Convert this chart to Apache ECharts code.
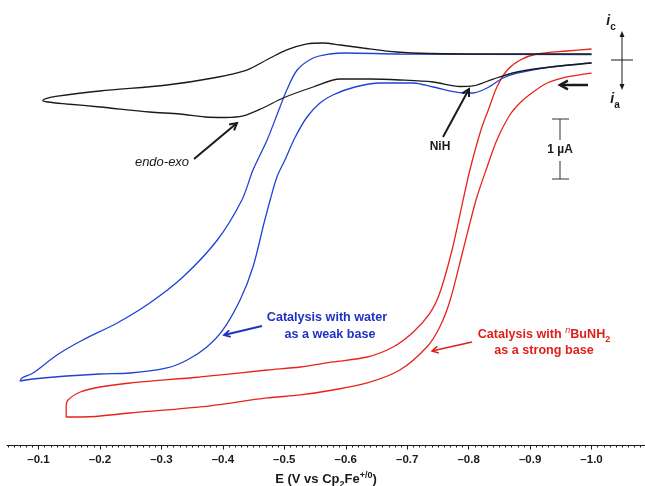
<!DOCTYPE html>
<html>
<head>
<meta charset="utf-8">
<script src="https://cdn.jsdelivr.net/npm/echarts@6/dist/echarts.min.js"></script>
<style>html,body{margin:0;padding:0;background:#fff}#c{width:645px;height:486px}</style>
</head>
<body>
<div id="c"></div>
<script>
// Potential (V vs Cp2Fe+/0) and current (µA, cathodic positive)
var blackE = [-1.000,-0.933,-0.879,-0.840,-0.807,-0.786,-0.742,-0.688,-0.640,-0.591,-0.547,-0.498,-0.465,-0.433,-0.404,-0.371,-0.330,-0.281,-0.200,-0.146,-0.115,-0.107,
              -0.112,-0.128,-0.200,-0.309,-0.384,-0.439,-0.477,-0.504,-0.537,-0.563,-0.591,-0.628,-0.683,-0.737,-0.851,-1.000];
var blackI = [-0.050,-0.117,-0.200,-0.317,-0.433,-0.442,-0.367,-0.333,-0.317,-0.317,-0.450,-0.633,-0.800,-0.933,-0.958,-0.950,-0.900,-0.867,-0.783,-0.733,-0.700,-0.675,
              -0.642,-0.608,-0.517,-0.417,-0.300,-0.167,0.033,0.167,0.267,0.283,0.250,0.200,0.133,0.108,0.100,0.100];

var blueE = [-1.000,-0.933,-0.879,-0.856,-0.830,-0.807,-0.791,-0.742,-0.710,-0.656,-0.615,-0.579,-0.558,-0.537,-0.517,-0.501,-0.488,-0.477,-0.467,-0.449,-0.428,-0.400,-0.374,-0.342,-0.309,-0.249,-0.200,-0.146,-0.091,-0.070,
             -0.073,-0.091,-0.130,-0.172,-0.228,-0.281,-0.335,-0.391,-0.431,-0.449,-0.472,-0.493,-0.504,-0.521,-0.547,-0.574,-0.599,-0.688,-1.000];
var blueI = [-0.050,-0.117,-0.217,-0.300,-0.467,-0.550,-0.550,-0.450,-0.383,-0.383,-0.450,-0.583,-0.717,-0.950,-1.300,-1.667,-1.950,-2.333,-2.717,-3.450,-4.000,-4.500,-4.783,-5.000,-5.133,-5.217,-5.233,-5.267,-5.317,-5.350,
             -5.300,-5.217,-4.917,-4.667,-4.383,-4.050,-3.617,-3.000,-2.333,-1.833,-1.333,-0.783,-0.500,-0.167,0.033,0.100,0.117,0.100,0.092];

var redE = [-1.000,-0.960,-0.928,-0.905,-0.885,-0.867,-0.846,-0.830,-0.812,-0.791,-0.770,-0.753,-0.732,-0.688,-0.635,-0.579,-0.526,-0.472,-0.363,-0.249,-0.172,-0.145,
            -0.145,-0.148,-0.168,-0.200,-0.249,-0.363,-0.472,-0.526,-0.579,-0.635,-0.677,-0.710,-0.737,-0.753,-0.773,-0.791,-0.802,-0.820,-0.832,-0.846,-0.863,-0.884,-0.911,-0.960,-1.000];
var redI = [-0.217,-0.283,-0.383,-0.533,-0.700,-0.917,-1.333,-1.783,-2.333,-3.167,-4.000,-4.450,-4.783,-5.167,-5.383,-5.500,-5.583,-5.633,-5.783,-5.883,-5.950,-5.950,
            -5.783,-5.667,-5.533,-5.450,-5.383,-5.283,-5.167,-5.117,-5.033,-4.950,-4.783,-4.533,-4.217,-3.883,-3.167,-2.333,-1.833,-1.167,-0.833,-0.450,-0.167,0.000,0.100,0.150,0.183];

var majorTicks = [-0.1,-0.2,-0.3,-0.4,-0.5,-0.6,-0.7,-0.8,-0.9,-1.0];
var minorTicks = [];
for (var k = 5; k <= 108; k++) { minorTicks.push(-k / 100); }

function zip(a, b) { return a.map(function (v, i) { return [v, b[i]]; }); }

var FONT = '"Liberation Sans", Arial, Helvetica, sans-serif';
var BLACK = '#1a1a1a', BLUE = '#2142d4', RED = '#e8231d', BLUETXT = '#1f33c2', REDTXT = '#e01f19';

function arrow(x1, y1, x2, y2, color, w, head) {
  var a = Math.atan2(y2 - y1, x2 - x1), s = 0.5;
  return [
    { type: 'line', shape: { x1: x1, y1: y1, x2: x2, y2: y2 }, style: { stroke: color, lineWidth: w }, z: 10 },
    { type: 'polyline', shape: { points: [
        [x2 - head * Math.cos(a - s), y2 - head * Math.sin(a - s)], [x2, y2],
        [x2 - head * Math.cos(a + s), y2 - head * Math.sin(a + s)]] },
      style: { stroke: color, lineWidth: w, fill: null }, z: 10 }
  ];
}
function seg(x1, y1, x2, y2, color, w) {
  return { type: 'line', shape: { x1: x1, y1: y1, x2: x2, y2: y2 }, style: { stroke: color, lineWidth: w }, z: 10 };
}
function txt(x, y, text, color, font, rich) {
  return { type: 'text', x: x, y: y, z: 10,
    style: { text: text, fill: color, font: font, align: 'center', verticalAlign: 'middle', rich: rich } };
}

var g = [];
g = g.concat(arrow(194, 159, 237, 123, BLACK, 2, 8));
g = g.concat(arrow(443, 137, 469, 89, BLACK, 2, 8));
g = g.concat(arrow(588, 85, 560, 85, BLACK, 2.5, 9));
g = g.concat(arrow(262, 326, 224, 335, BLUETXT, 1.8, 7));
g = g.concat(arrow(472, 342, 432, 351, REDTXT, 1.5, 7));
// current direction axis
g.push(seg(622, 35, 622, 86, BLACK, 1));
g.push(seg(611, 60, 633, 60, BLACK, 1));
g.push({ type: 'polygon', shape: { points: [[622, 31], [619.5, 37], [624.5, 37]] }, style: { fill: BLACK }, z: 10 });
g.push({ type: 'polygon', shape: { points: [[622, 90], [619.5, 84], [624.5, 84]] }, style: { fill: BLACK }, z: 10 });
// scale bar
g.push(seg(560, 119, 560, 140, '#333', 1));
g.push(seg(560, 161, 560, 179, '#333', 1));
g.push(seg(552, 119, 569, 119, '#333', 1));
g.push(seg(552, 179, 569, 179, '#333', 1));

var richIC = {
  i: { fontFamily: FONT, fontSize: 14, fontStyle: 'italic', fontWeight: 'bold', fill: BLACK, lineHeight: 18, verticalAlign: 'top' },
  s: { fontFamily: FONT, fontSize: 10, fontWeight: 'bold', fill: BLACK, lineHeight: 18, verticalAlign: 'bottom' }
};
g.push(txt(611, 23, '{i|i}{s|c}', BLACK, 'bold 12px ' + FONT, richIC));
g.push(txt(615, 101, '{i|i}{s|a}', BLACK, 'bold 12px ' + FONT, richIC));
g.push(txt(560, 150, '1 µA', BLACK, 'bold 12px ' + FONT));
g.push(txt(440, 147, 'NiH', BLACK, 'bold 12px ' + FONT));
g.push(txt(162, 162, 'endo-exo', BLACK, 'italic 13px ' + FONT));
g.push(txt(327, 318, 'Catalysis with water', BLUETXT, 'bold 12.6px ' + FONT));
g.push(txt(330, 335, 'as a weak base', BLUETXT, 'bold 12.6px ' + FONT));
var richR = {
  n: { fontFamily: FONT, fontSize: 12.6, fontWeight: 'bold', fill: REDTXT, lineHeight: 18 },
  sup: { fontFamily: FONT, fontSize: 9, fontStyle: 'italic', fill: REDTXT, lineHeight: 18, verticalAlign: 'top' },
  sub: { fontFamily: FONT, fontSize: 9, fontWeight: 'bold', fill: REDTXT, lineHeight: 18, verticalAlign: 'bottom' }
};
g.push(txt(544, 335, '{n|Catalysis with }{sup|n}{n|BuNH}{sub|2}', REDTXT, 'bold 12.6px ' + FONT, richR));
g.push(txt(544, 351, 'as a strong base', REDTXT, 'bold 12.6px ' + FONT));

var chart = echarts.init(document.getElementById('c'), null, { renderer: 'canvas' });
var fmt = function (v) { return '\u2013' + Math.abs(v).toFixed(1); };
chart.setOption({
  animation: false,
  backgroundColor: '#fff',
  grid: { left: 7, right: 0, top: 0, bottom: 41, containLabel: false, outerBoundsMode: 'none' },
  xAxis: [
    { type: 'value', inverse: true, min: -1.087, max: -0.0487, position: 'bottom',
      axisLine: { show: true, onZero: false, lineStyle: { color: BLACK, width: 1 } },
      axisTick: { show: true, length: 2.5, customValues: minorTicks, lineStyle: { color: BLACK, width: 1 } },
      axisLabel: { show: false }, splitLine: { show: false } },
    { type: 'value', inverse: true, min: -1.087, max: -0.0487, position: 'bottom',
      axisLine: { show: false, onZero: false },
      axisTick: { show: true, length: 4.5, customValues: majorTicks, lineStyle: { color: BLACK, width: 1 } },
      axisLabel: { show: true, customValues: majorTicks, formatter: fmt, margin: 9,
        color: BLACK, fontFamily: FONT, fontSize: 11.5, fontWeight: 'bold' },
      splitLine: { show: false },
      name: 'E (V vs Cp{sub|2}Fe{sup|+/0})', nameLocation: 'middle', nameGap: 23,
      nameTextStyle: { color: BLACK, fontFamily: FONT, fontSize: 13, fontWeight: 'bold', lineHeight: 18,
        rich: {
          sub: { fontFamily: FONT, fontSize: 9, fontWeight: 'bold', color: BLACK, lineHeight: 18, verticalAlign: 'bottom' },
          sup: { fontFamily: FONT, fontSize: 9, fontWeight: 'bold', color: BLACK, lineHeight: 18, verticalAlign: 'top' }
        } } }
  ],
  yAxis: { type: 'value', min: -6.4167, max: 1.0, show: false },
  series: [
    { name: 'no acid', type: 'line', xAxisIndex: 0, data: zip(blackE, blackI), smooth: 0.3, showSymbol: false,
      lineStyle: { color: BLACK, width: 1.3 }, z: 3 },
    { name: 'water', type: 'line', xAxisIndex: 0, data: zip(blueE, blueI), smooth: 0.3, showSymbol: false,
      lineStyle: { color: BLUE, width: 1.3 }, z: 2 },
    { name: 'BuNH2', type: 'line', xAxisIndex: 0, data: zip(redE, redI), smooth: 0.3, showSymbol: false,
      lineStyle: { color: RED, width: 1.3 }, z: 1 }
  ],
  graphic: g
});
</script>
</body>
</html>
